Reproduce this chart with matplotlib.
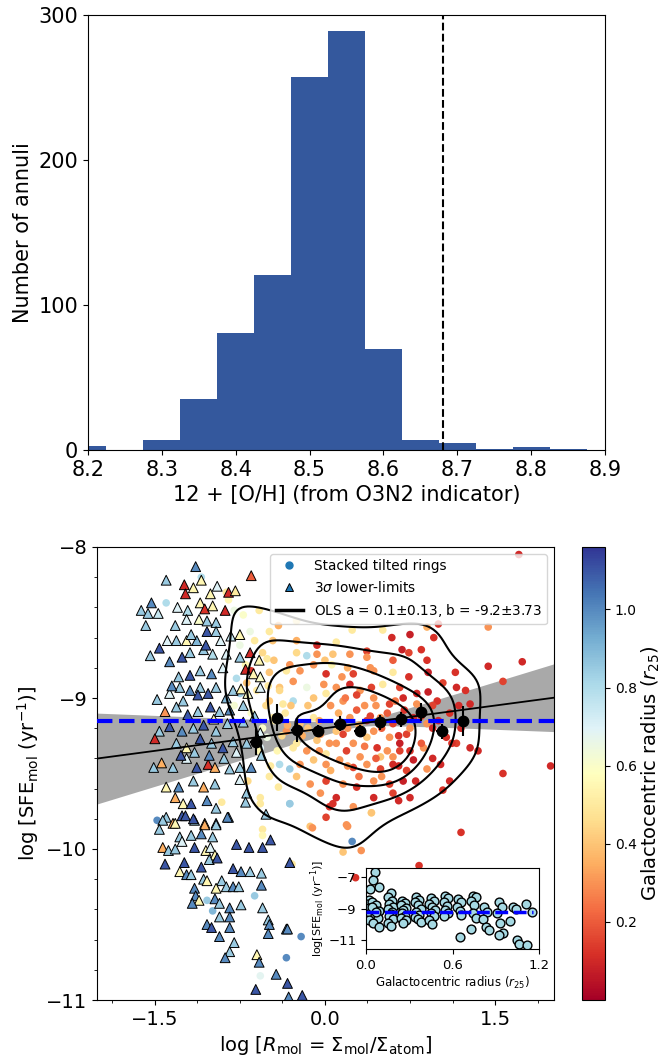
import numpy as np
import matplotlib
matplotlib.use("Agg")
import matplotlib.pyplot as plt
from matplotlib.lines import Line2D
from matplotlib.ticker import MultipleLocator
import seaborn as sns

# ---------------- data: histogram ----------------
bin_edges = [8.175, 8.225, 8.275, 8.325, 8.375, 8.425, 8.475, 8.525, 8.575,
             8.625, 8.675, 8.725, 8.775, 8.825, 8.875]
bin_counts = [3, 0, 7, 35, 81, 121, 257, 289, 70, 7, 5, 1, 2, 1]
solar_oh = 8.68

# ---------------- data: triangles (3 sigma lower limits) ----------------
tri_x = [-1.14, -1.40, -1.24, -1.09, -0.95, -1.16, -1.23, -1.01, -0.85, -0.79,
         -0.65, -1.53, -1.62, -1.56, -1.58, -1.47, -1.30, -1.21, -1.10, -1.06,
         -0.99, -0.88, -1.32, -1.22, -1.11, -1.04, -0.96, -1.39, -1.46, -1.31,
         -1.22, -1.13, -1.04, -0.96, -0.83, -0.75, -1.54, -1.37, -1.26, -1.19,
         -1.07, -0.99, -0.87, -0.75, -0.66, -0.58, -1.29, -1.19, -1.10, -1.00,
         -0.90, -0.70, -0.63, -0.57, -1.48, -1.37, -1.28, -1.19, -1.10, -1.03,
         -0.96, -0.87, -0.81, -0.74, -0.68, -0.57, -1.41, -1.31, -1.21, -1.12,
         -1.01, -0.93, -0.84, -0.72, -1.46, -1.37, -1.26, -1.16, -1.07, -0.96,
         -0.57, -1.50, -1.31, -1.22, -1.10, -1.00, -0.90, -0.81, -0.56, -1.51,
         -1.44, -1.34, -1.22, -1.13, -1.03, -0.97, -0.84, -0.75, -0.65, -1.40,
         -1.29, -1.16, -1.07, -0.97, -0.75, -0.69, -1.32, -1.25, -1.18, -1.04,
         -0.96, -0.70, -0.52, -1.40, -1.34, -1.26, -1.15, -1.06, -0.96, -0.85,
         -1.43, -1.46, -1.32, -1.06, -0.96, -1.23, -1.16, -0.86, -1.28, -1.18,
         -1.09, -0.99, -1.26, -1.43, -1.38, -1.32, -1.15, -1.05, -1.01, -0.97,
         -0.78, -0.67, -0.55, -0.48, -1.41, -1.24, -1.09, -1.02, -0.95, -0.81,
         -0.74, -0.66, -0.56, -1.28, -1.22, -1.18, -1.07, -0.91, -0.31, -1.15,
         -0.96, -1.04, -0.87, -0.81, -0.76, -0.56, -1.14, -1.11, -0.97, -1.17,
         -0.93, -0.84, -0.74, -0.55, -0.93, -0.84, -0.50, -0.49, -1.04, -1.00,
         -0.84, -0.50, -0.34, -0.33, -0.93, -0.80, -0.84, -0.88, -0.60, -0.58,
         -0.43, -0.61, -0.33, -0.32, -0.20,
         -1.18, -1.05, -0.92, -1.35, -1.25, -1.12, -0.98, -0.86, -0.72, -0.62,
         -1.27, -1.15, -1.02, -0.89, -0.78, -0.69]
tri_y = [-8.13, -8.22, -8.25, -8.22, -8.26, -8.27, -8.31, -8.31, -8.30, -8.29,
         -8.19, -8.37, -8.42, -8.44, -8.52, -8.44, -8.40, -8.42, -8.37, -8.41,
         -8.39, -8.42, -8.52, -8.48, -8.48, -8.49, -8.50, -8.62, -8.67, -8.62,
         -8.62, -8.62, -8.56, -8.56, -8.59, -8.58, -8.72, -8.76, -8.73, -8.70,
         -8.68, -8.71, -8.71, -8.73, -8.70, -8.75, -8.86, -8.85, -8.82, -8.84,
         -8.80, -8.81, -8.84, -8.86, -9.01, -8.97, -8.93, -8.95, -8.93, -8.97,
         -8.93, -9.00, -8.95, -8.94, -8.97, -8.93, -9.09, -9.06, -9.11, -9.09,
         -9.06, -9.09, -9.08, -9.16, -9.22, -9.19, -9.22, -9.20, -9.18, -9.22,
         -9.23, -9.27, -9.30, -9.33, -9.27, -9.30, -9.33, -9.29, -9.38, -9.46,
         -9.43, -9.46, -9.40, -9.46, -9.44, -9.46, -9.47, -9.46, -9.46, -9.59,
         -9.59, -9.55, -9.59, -9.57, -9.54, -9.63, -9.66, -9.70, -9.70, -9.68,
         -9.73, -9.69, -9.77, -9.79, -9.83, -9.78, -9.81, -9.83, -9.83, -9.79,
         -9.81, -9.87, -9.83, -9.84, -9.84, -9.78, -9.80, -9.79, -9.92, -9.91,
         -9.90, -9.92, -9.95, -9.99, -10.01, -10.00, -9.99, -10.01, -9.99, -10.04,
         -9.97, -9.99, -9.99, -9.94, -10.10, -10.09, -10.12, -10.07, -10.06, -10.13,
         -10.15, -10.15, -10.16, -10.15, -10.17, -10.17, -10.20, -10.21, -10.09, -10.26,
         -10.26, -10.21, -10.25, -10.25, -10.25, -10.24, -10.31, -10.34, -10.33, -10.36,
         -10.36, -10.39, -10.37, -10.39, -10.45, -10.45, -10.47, -10.50, -10.50, -10.52,
         -10.52, -10.56, -10.53, -10.53, -10.58, -10.62, -10.68, -10.72, -10.70, -10.75,
         -10.83, -10.93, -10.89, -10.98, -10.97,
         -8.58, -8.65, -8.62, -8.92, -9.02, -8.98, -9.14, -9.17, -9.05, -9.12,
         -9.38, -9.36, -9.38, -9.40, -9.36, -9.30]
tri_r = [1.00, 0.85, 0.10, 0.55, 0.70, 0.55, 0.10, 0.55, 0.10, 0.50,
         0.20, 1.00, 0.85, 0.85, 0.85, 0.75, 0.70, 0.80, 0.55, 0.12,
         0.55, 0.10, 0.85, 0.70, 0.60, 0.85, 0.85, 0.70, 1.10, 0.85,
         0.55, 0.90, 1.10, 0.85, 0.75, 0.55, 0.85, 1.00, 1.10, 0.85,
         0.85, 0.80, 0.70, 0.85, 0.10, 0.55, 0.85, 1.10, 0.85, 1.00,
         0.70, 0.10, 0.55, 0.60, 0.85, 0.70, 0.85, 1.00, 0.85, 1.10,
         0.85, 0.90, 0.85, 0.55, 0.60, 0.70, 0.30, 0.85, 1.10, 0.85,
         1.10, 0.85, 1.00, 0.85, 0.85, 1.10, 1.00, 0.85, 1.10, 0.85,
         0.70, 0.10, 0.85, 0.55, 1.10, 0.85, 1.10, 0.85, 0.85, 0.85,
         0.35, 0.85, 0.70, 1.10, 0.12, 0.35, 0.85, 0.85, 1.00, 0.55,
         1.00, 0.85, 0.35, 0.85, 0.70, 0.85, 0.35, 0.55, 1.10, 1.00,
         0.85, 0.85, 0.85, 0.85, 0.35, 1.10, 0.85, 0.35, 1.10, 1.00,
         0.85, 0.85, 0.55, 0.35, 0.85, 1.10, 1.10, 1.00, 0.85, 0.85,
         1.00, 0.85, 0.70, 0.35, 0.85, 0.85, 1.10, 0.55, 0.70, 0.55,
         1.10, 1.10, 1.10, 1.10, 1.10, 1.10, 1.10, 0.85, 1.10, 1.10,
         1.00, 0.85, 0.85, 0.55, 1.00, 0.85, 0.85, 0.85, 1.10, 1.00,
         0.55, 0.55, 0.85, 1.00, 0.85, 1.00, 1.00, 0.55, 1.00, 1.00,
         0.85, 1.00, 0.85, 0.85, 0.85, 1.00, 0.85, 1.00, 1.00, 1.10,
         1.00, 1.00, 1.00, 1.00, 1.00, 0.85, 0.85, 1.00, 0.55, 1.00,
         1.00, 1.10, 1.10, 1.00, 1.10,
         0.85, 1.10, 0.70, 1.00, 0.85, 1.10, 0.55, 0.85, 0.85, 0.85,
         1.10, 0.85, 1.00, 0.85, 0.70, 0.85]

# ---------------- data: circles (stacked tilted rings) ----------------
cir_x = [-1.09, -1.40, -0.87, -0.80, -0.58, -0.66, -0.49, -0.41, -0.25, 0.24,
         0.51, 0.90, 1.00, 1.44, 1.71, -0.46, -0.25, -0.07, 0.10, 0.59,
         0.75, 0.96, -0.07, 0.07, 0.22, 0.37, 0.68, 0.85, -0.16, -0.51,
         -0.31, -0.10, 0.06, 0.37, 0.74, 0.90, 1.44, 1.74, 1.57, -0.65,
         -0.49, -0.34, -0.22, 0.01, 0.15, 0.25, 0.43, 0.60, 0.74, 1.15,
         0.91, 1.16, -0.78, -0.69, -0.50, -0.40, -0.28, -0.16, -0.01, 0.10,
         0.22, 0.31, 0.41, 0.51, 0.66, 0.81, 0.91, 1.04, 1.24, -0.75,
         -0.49, -0.37, -0.28, -0.10, 0.01, 0.16, 0.28, 0.43, 0.57, 0.69,
         0.81, 0.99, 1.28, 1.99, 1.57, 1.04, 1.28, 1.35, 1.16, 0.87,
         0.78, 0.66, 0.57, 0.46, 0.37, 0.25, 0.16, 0.04, -0.07, -0.16,
         -0.28, -0.40, -0.31, -0.22, -0.10, 0.01, 0.13, 0.25, 0.37, 0.49,
         0.60, 0.72, 0.90, 1.02, -0.49, -0.25, -0.13, 0.01, 0.16, 0.28,
         0.43, 0.57, 0.69, -0.57, -0.41, -0.31, -0.04, 0.10, 0.25, 0.43,
         0.60, 0.75, 0.19, 0.41, 0.07, -0.13, 0.01, -0.91, 0.22, 0.37,
         0.49, 0.60, 0.78, 0.90, -0.10, -0.22, -0.46, -0.34, -0.04, 0.10,
         0.43, 0.72, 1.07, 0.60, 0.19, 0.31, 0.49, 0.66, 0.01, -0.51,
         -0.57, -1.48, -0.57, -0.31, -0.11, 0.20, 0.04, 0.65, 0.41, -0.55,
         -0.55, 0.24, 0.16, 0.32, 1.20, 0.83, 0.27, -0.29, -0.62, -1.04,
         -0.99, -0.21, -0.34, -0.57,
         -0.85, -0.72, -0.62, -0.55, -0.70, -0.60, -0.52, -0.65, -0.45, -0.40,
         -0.35, -0.80, -0.75, -0.58, -0.48, -0.68,
         0.05, 0.12, 0.18, 0.28, 0.35, 0.40, 0.45, 0.55, 0.62, 0.70,
         0.75, 0.85, 0.95, 0.20, 0.30, 0.50, 0.65, 0.85, 0.10, 0.35,
         0.55, 0.75, 0.20, 0.45, 0.65, 0.30, 0.50, 0.80, -0.05, -0.15,
         -0.20, -0.05, 0.05, 0.95, 1.10, 1.20, 1.10, 0.40, 0.60, 0.20,
         0.00, -0.25,
         -0.45, -0.38, -0.30, -0.25, -0.42, -0.33, 1.00, 1.12, 0.95, 1.18,
         -0.15, -0.55]
cir_y = [-8.20, -8.37, -8.30, -8.42, -8.42, -8.56, -8.56, -8.52, -8.49, -8.55,
         -8.55, -8.53, -8.51, -8.53, -8.05, -8.62, -8.62, -8.65, -8.63, -8.60,
         -8.58, -8.60, -8.71, -8.71, -8.71, -8.69, -8.68, -8.68, -8.72, -8.74,
         -8.78, -8.78, -8.78, -8.73, -8.70, -8.75, -8.79, -8.76, -8.89, -8.82,
         -8.83, -8.82, -8.82, -8.84, -8.86, -8.84, -8.82, -8.83, -8.86, -8.83,
         -8.83, -8.93, -8.87, -8.90, -8.92, -8.93, -8.89, -8.93, -8.91, -8.93,
         -8.91, -8.95, -8.93, -8.91, -8.93, -8.97, -8.96, -8.90, -8.95, -8.97,
         -9.02, -9.04, -9.02, -9.00, -8.97, -9.02, -8.98, -9.00, -9.04, -9.00,
         -9.04, -9.02, -9.04, -9.45, -9.50, -9.61, -9.33, -9.35, -9.30, -9.33,
         -9.41, -9.35, -9.26, -9.33, -9.26, -9.30, -9.24, -9.30, -9.28, -9.35,
         -9.33, -9.44, -9.47, -9.44, -9.41, -9.44, -9.41, -9.46, -9.44, -9.47,
         -9.44, -9.48, -9.47, -9.44, -9.52, -9.52, -9.57, -9.55, -9.57, -9.59,
         -9.55, -9.57, -9.55, -9.66, -9.59, -9.70, -9.63, -9.66, -9.72, -9.66,
         -9.63, -9.66, -9.84, -9.76, -9.70, -9.85, -9.79, -9.69, -9.13, -9.15,
         -9.13, -9.17, -9.13, -9.17, -9.13, -9.17, -9.13, -9.22, -9.24, -9.22,
         -9.22, -9.24, -9.26, -9.39, -9.35, -9.39, -9.39, -9.30, -9.37, -9.26,
         -9.33, -9.81, -9.70, -9.70, -9.86, -9.85, -9.72, -9.68, -9.76, -9.87,
         -9.91, -9.95, -10.02, -10.01, -9.89, -10.11, -10.19, -10.10, -10.31, -10.34,
         -10.41, -10.58, -10.72, -10.84,
         -8.35, -8.45, -8.62, -8.70, -8.78, -8.95, -9.05, -9.10, -8.75, -8.95,
         -9.10, -9.05, -8.65, -9.35, -9.45, -9.55,
         -9.05, -9.10, -9.00, -9.08, -9.05, -9.12, -9.05, -9.10, -9.02, -9.08,
         -9.20, -9.12, -9.20, -9.20, -9.18, -9.20, -9.25, -9.30, -9.30, -9.32,
         -9.35, -9.35, -9.45, -9.40, -9.45, -9.52, -9.52, -9.55, -9.15, -9.05,
         -9.25, -9.35, -9.48, -9.40, -9.10, -9.20, -9.55, -8.80, -8.75, -8.80,
         -8.75, -8.70,
         -9.15, -9.25, -9.05, -9.30, -9.35, -9.18, -9.15, -9.30, -9.05, -9.05,
         -9.20, -9.20]
cir_r = [0.80, 0.80, 0.50, 0.65, 0.50, 0.65, 0.50, 0.35, 0.50, 0.50,
         0.50, 0.35, 0.12, 0.30, 0.10, 0.40, 0.35, 0.10, 0.50, 0.10,
         0.08, 0.12, 0.30, 0.40, 0.30, 0.15, 0.08, 0.12, 0.80, 0.50,
         0.30, 0.30, 0.55, 0.30, 0.15, 0.12, 0.10, 0.10, 0.15, 0.12,
         0.40, 0.50, 0.30, 0.12, 0.30, 0.15, 0.30, 0.50, 0.12, 0.12,
         0.08, 0.10, 0.80, 0.40, 0.50, 0.40, 0.30, 0.65, 0.30, 0.30,
         0.10, 0.30, 0.15, 0.50, 0.15, 0.10, 0.08, 0.15, 0.12, 0.85,
         0.40, 0.50, 0.80, 0.40, 0.50, 0.30, 0.15, 0.30, 0.15, 0.10,
         0.30, 0.12, 0.10, 0.10, 0.12, 0.12, 0.10, 0.10, 0.15, 0.30,
         0.08, 0.15, 0.30, 0.12, 0.40, 0.30, 0.15, 0.30, 0.40, 0.30,
         0.50, 0.80, 0.85, 0.30, 0.40, 0.30, 0.30, 0.15, 0.30, 0.15,
         0.10, 0.15, 0.30, 0.10, 0.50, 0.40, 0.30, 0.15, 0.30, 0.12,
         0.30, 0.15, 0.08, 0.50, 0.50, 0.80, 0.30, 0.10, 0.30, 0.10,
         0.15, 0.10, 0.30, 0.50, 0.12, 0.40, 0.15, 0.50, 0.30, 0.15,
         0.30, 0.15, 0.10, 0.30, 0.50, 0.40, 0.50, 0.30, 0.30, 0.40,
         0.30, 0.15, 0.12, 0.30, 0.15, 0.30, 0.40, 0.08, 0.50, 0.65,
         0.70, 1.00, 0.50, 0.85, 0.30, 0.30, 0.12, 0.10, 0.40, 0.50,
         0.55, 1.00, 0.40, 0.30, 0.12, 0.12, 0.12, 0.50, 0.85, 0.85,
         0.90, 1.00, 1.00, 0.68,
         0.55, 0.60, 0.50, 0.45, 0.55, 0.50, 0.45, 0.60, 0.40, 0.45,
         0.50, 0.62, 0.65, 0.55, 0.50, 0.45,
         0.30, 0.35, 0.25, 0.20, 0.30, 0.15, 0.30, 0.20, 0.25, 0.12,
         0.30, 0.15, 0.10, 0.30, 0.35, 0.20, 0.12, 0.20, 0.30, 0.25,
         0.30, 0.12, 0.30, 0.20, 0.10, 0.25, 0.30, 0.10, 0.35, 0.40,
         0.35, 0.30, 0.35, 0.10, 0.12, 0.10, 0.10, 0.30, 0.20, 0.35,
         0.40, 0.45,
         0.50, 0.45, 0.40, 0.50, 0.55, 0.35, 0.10, 0.12, 0.15, 0.10,
         0.40, 0.60]

# ---------------- data: binned medians ----------------
bin_x = [-0.61, -0.42, -0.25, -0.06, 0.13, 0.31, 0.49, 0.67, 0.85, 1.03, 1.22]
bin_y = [-9.29, -9.13, -9.21, -9.22, -9.17, -9.22, -9.16, -9.14, -9.09, -9.22, -9.15]
bin_yerr = [0.085, 0.09, 0.08, 0.04, 0.05, 0.04, 0.05, 0.05, 0.06, 0.05, 0.10]
bin_xerr = [0.05, 0.05, 0.05, 0.05, 0.05, 0.05, 0.05, 0.05, 0.05, 0.05, 0.05]

# OLS fit parameters and median line
ols_a, ols_a_err, ols_b = 0.1, 0.13, -9.2
ols_pivot = 0.3
median_sfe = -9.15

# ---------------- data: inset ----------------
ins_r = [0.06, 0.05, 0.03, 0.09, 0.02, 0.01, 0.04, 0.07, 0.02, 0.05, 0.09, 0.03,
         0.06, 0.08, 0.02, 0.05, 0.09, 0.04, 0.07,
         0.17, 0.15, 0.18, 0.16, 0.19, 0.15, 0.18, 0.17, 0.16, 0.19, 0.15, 0.17,
         0.25, 0.27, 0.24, 0.28, 0.26, 0.25, 0.27, 0.24, 0.28, 0.26,
         0.35, 0.37, 0.34, 0.36, 0.38, 0.35, 0.37, 0.34, 0.36, 0.38,
         0.45, 0.47, 0.44, 0.46, 0.48, 0.45, 0.47, 0.44, 0.46,
         0.55, 0.57, 0.54, 0.56, 0.55, 0.57, 0.54,
         0.64, 0.66, 0.63, 0.65, 0.66, 0.65,
         0.74, 0.76, 0.73, 0.75, 0.74, 0.76, 0.73,
         0.82, 0.84, 0.81, 0.83, 0.85,
         0.92, 0.94, 0.91, 0.93, 0.95, 0.92,
         1.02, 1.04, 1.00, 1.05, 1.06,
         1.11, 1.15, 1.12]
ins_y = [-6.66, -7.15, -7.78, -7.65, -8.45, -8.70, -8.60, -8.80, -8.95, -9.05, -9.15, -9.30,
         -9.40, -9.60, -9.75, -9.95, -10.20, -8.90, -9.20,
         -8.00, -8.25, -8.50, -8.70, -8.90, -9.05, -9.20, -9.35, -9.50, -9.70, -9.90, -10.10,
         -8.50, -8.65, -8.80, -8.95, -9.10, -9.30, -9.45, -9.60, -9.75, -9.90,
         -8.25, -8.45, -8.60, -8.80, -9.00, -9.20, -9.40, -9.55, -9.70, -9.85,
         -8.30, -8.50, -8.70, -8.90, -9.10, -9.30, -9.50, -9.75, -10.00,
         -8.20, -8.35, -8.60, -8.85, -9.10, -9.30, -9.50,
         -8.40, -8.60, -8.90, -9.15, -9.40, -10.80,
         -8.20, -8.25, -8.50, -8.80, -9.30, -9.60, -10.30,
         -8.90, -9.20, -9.70, -10.20, -10.40,
         -8.60, -8.90, -9.30, -9.90, -10.60, -10.70,
         -8.90, -9.00, -9.80, -11.00, -11.30,
         -8.70, -9.20, -11.35]
ins_median = -9.21

# ---------------- figure ----------------
W, H = 660, 1059
fig = plt.figure(figsize=(W / 100, H / 100), dpi=100)


def box(l, t, r, b):
    return [l / W, 1 - b / H, (r - l) / W, (b - t) / H]


# Histogram
axh = fig.add_axes(box(88, 15, 605, 450))
axh.bar(bin_edges[:-1], bin_counts, width=np.diff(bin_edges), align='edge',
        color='#34589d', edgecolor='none')
axh.axvline(solar_oh, color='k', ls='--', lw=1.5)
axh.set_xlim(8.2, 8.9)
axh.set_ylim(0, 300)
axh.set_yticks([0, 100, 200, 300])
axh.set_xticks([8.2, 8.3, 8.4, 8.5, 8.6, 8.7, 8.8, 8.9])
axh.tick_params(labelsize=15)
axh.set_xlabel('12 + [O/H] (from O3N2 indicator)', fontsize=15)
axh.set_ylabel('Number of annuli', fontsize=15)

# Main scatter
ax = fig.add_axes(box(97, 547, 554, 1000))
xx = np.linspace(-2.1, 2.1, 200)
fit = ols_a * xx + ols_b
half = np.sqrt((ols_a_err * (xx - ols_pivot)) ** 2 + 0.02 ** 2)
ax.fill_between(xx, fit - half, fit + half, color='#a9a9a9', lw=0, zorder=1)

cmap = plt.get_cmap('RdYlBu')
norm = matplotlib.colors.Normalize(vmin=0.0, vmax=1.16)
sc = ax.scatter(cir_x, cir_y, c=cir_r, cmap=cmap, norm=norm, s=30,
                edgecolors='none', zorder=2)
ax.scatter(tri_x, tri_y, c=tri_r, cmap=cmap, norm=norm, s=50, marker='^',
           edgecolors='k', linewidths=0.7, zorder=2)

sns.kdeplot(x=np.array(cir_x), y=np.array(cir_y), levels=[0.2, 0.4, 0.6, 0.8],
            bw_adjust=0.85, colors='k', linewidths=1.5, ax=ax, zorder=3)

ax.axhline(median_sfe, color='blue', ls='--', lw=3, zorder=4)
ax.plot(xx, fit, color='k', lw=1.3, zorder=4)
ax.errorbar(bin_x, bin_y, xerr=bin_xerr, yerr=bin_yerr, fmt='o', color='k',
            ms=7.5, elinewidth=1.5, capsize=0, zorder=5)

ax.set_xlim(-2.01, 2.02)
ax.set_ylim(-11, -8)
ax.xaxis.set_major_locator(MultipleLocator(1.5))
ax.xaxis.set_minor_locator(MultipleLocator(0.375))
ax.yaxis.set_major_locator(MultipleLocator(1))
ax.yaxis.set_minor_locator(MultipleLocator(0.2))
ax.tick_params(labelsize=14)
ax.set_xlabel(r'log [$R_{\rm mol}$ = $\Sigma_{\rm mol}$/$\Sigma_{\rm atom}$]', fontsize=14)
ax.set_ylabel(r'log [SFE$_{\rm mol}$ (yr$^{-1}$)]', fontsize=14)

handles = [
    Line2D([], [], ls='none', marker='o', color='#1f77b4', ms=5),
    Line2D([], [], ls='none', marker='^', markerfacecolor='#1f77b4',
           markeredgecolor='k', markeredgewidth=0.7, ms=6),
    Line2D([], [], color='k', lw=2.5),
]
labels = ['Stacked tilted rings', r'3$\sigma$ lower-limits',
          r'OLS a = 0.1$\pm$0.13, b = -9.2$\pm$3.73']
ax.legend(handles, labels, loc='upper right', fontsize=9.8)

# Colorbar
cax = fig.add_axes(box(582, 547, 605, 1000))
cb = fig.colorbar(sc, cax=cax)
cb.set_ticks([0.2, 0.4, 0.6, 0.8, 1.0])
cb.ax.tick_params(labelsize=10)
cb.set_label(r'Galactocentric radius ($r_{25}$)', fontsize=14, labelpad=2)

# Inset
axi = fig.add_axes(box(366, 868, 539, 949))
axi.scatter(ins_r, ins_y, s=40, facecolor='#a6d9e3', edgecolors='k',
            linewidths=1.0, zorder=2)
axi.hlines(ins_median, 0.0, 1.16, color='blue', ls='--', lw=2.5, zorder=3)
axi.set_xlim(0, 1.2)
axi.set_ylim(-11.6, -6.4)
axi.set_xticks([0.0, 0.6, 1.2])
axi.set_yticks([-7, -9, -11])
axi.tick_params(labelsize=9.5)
axi.set_xlabel(r'Galactocentric radius ($r_{25}$)', fontsize=8.5, labelpad=2)
axi.set_ylabel(r'log[SFE$_{\rm mol}$ (yr$^{-1}$)]', fontsize=8, labelpad=1)

fig.savefig('out.png', dpi=100)
